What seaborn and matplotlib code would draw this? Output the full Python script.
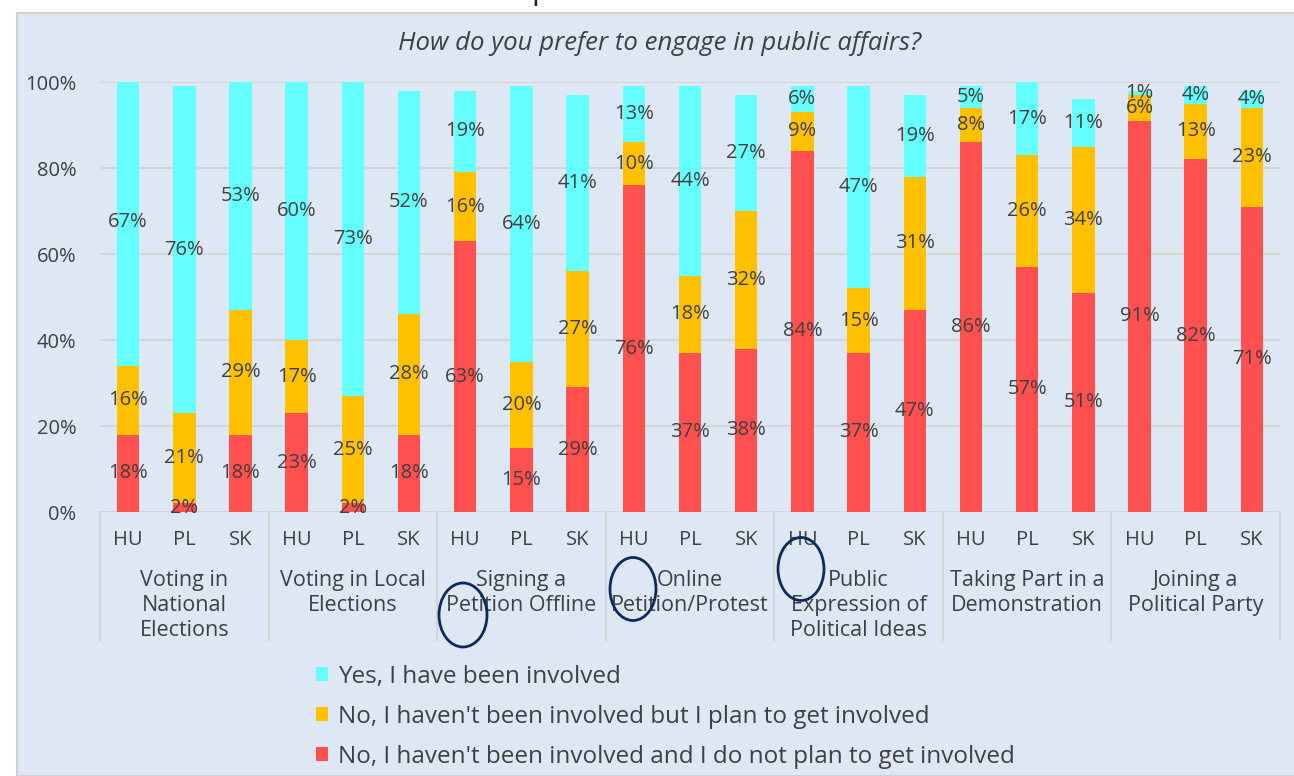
import matplotlib
matplotlib.use("Agg")
import matplotlib.pyplot as plt
from matplotlib.patches import Rectangle, Ellipse, Patch
import seaborn as sns
import pandas as pd
import numpy as np

groups = ["Voting in\nNational\nElections", "Voting in Local\nElections", "Signing a\nPetition Offline",
          "Online\nPetition/Protest", "Public\nExpression of\nPolitical Ideas", "Taking Part in a\nDemonstration",
          "Joining a\nPolitical Party"]
countries = ["HU", "PL", "SK"]
# per group: HU, PL, SK
no_no = [18, 2, 18, 23, 2, 18, 63, 15, 29, 76, 37, 38, 84, 37, 47, 86, 57, 51, 91, 82, 71]
no_plan = [16, 21, 29, 17, 25, 28, 16, 20, 27, 10, 18, 32, 9, 15, 31, 8, 26, 34, 6, 13, 23]
yes = [67, 76, 53, 60, 73, 52, 19, 64, 41, 13, 44, 27, 6, 47, 19, 5, 17, 11, 1, 4, 4]
series_names = ["Yes, I have been involved",
                "No, I haven't been involved but I plan to get involved",
                "No, I haven't been involved and I do not plan to get involved"]
colors = ["#66FFFF", "#FFC000", "#FF5050"]
title = "How do you prefer to engage in public affairs?"
yticks = [0, 20, 40, 60, 80, 100]

W, H = 1294, 776
fig = plt.figure(figsize=(W / 100, H / 100), dpi=100)
fig.patch.set_facecolor("white")
plt.rcParams["font.family"] = ["Open Sans", "DejaVu Sans"]
TXT = "#404040"
BG = "#DDE8F4"

fig.patches.append(Rectangle((17 / W, 0), (W - 17) / W + 0.01, (H - 13) / H, transform=fig.transFigure,
                             facecolor=BG, edgecolor="#D0D0D0", lw=1.5, zorder=-5))
fig.text(541 / W, 1 + 1 / H, "p", ha="center", va="baseline", fontsize=22, color="#222222")

ax = fig.add_axes([100 / W, (H - 512) / H, 1180 / W, 430 / H])
ax.set_zorder(1)
ax.set_facecolor("none")

n = len(no_no)
cats = [f"{g}_{c}" for g in range(len(groups)) for c in countries]
r = np.array(no_no)
o = np.array(no_plan)
y = np.array(yes)
df = pd.DataFrame({"cat": cats, "top": r + o + y, "mid": r + o, "low": r})

for col, colr in zip(["top", "mid", "low"], colors):
    sns.barplot(data=df, x="cat", y=col, order=cats, color=colr, width=0.4, errorbar=None,
                saturation=1, ax=ax, zorder=3, edgecolor="none")

for i in range(n):
    segs = [(0, r[i]), (r[i], r[i] + o[i]), (r[i] + o[i], r[i] + o[i] + y[i])]
    for (b, t), v in zip(segs, [r[i], o[i], y[i]]):
        ax.text(i, (b + t) / 2, f"{v}%", ha="center", va="center", fontsize=14.5, color=TXT, zorder=5)

ax.set_xlim(-0.5, n - 0.5)
ax.set_ylim(0, 100)
ax.set_yticks(yticks)
ax.set_yticklabels([f"{t}%" for t in yticks])
ax.set_xticks(range(n))
ax.set_xticklabels(countries * len(groups))
ax.tick_params(axis="y", length=0, pad=17, labelsize=14.5, labelcolor=TXT)
ax.tick_params(axis="x", length=0, pad=13, labelsize=14.5, labelcolor=TXT)
ax.set_xlabel("")
ax.set_ylabel("")
for s in ax.spines.values():
    s.set_visible(False)
for t in yticks:
    ax.axhline(t, color="#D5D5D5", lw=1.5, zorder=1)

trans = ax.get_xaxis_transform()
ax_h = 430
for k in range(len(groups) + 1):
    xb = -0.5 + 3 * k
    ax.plot([xb, xb], [0, -128 / ax_h], transform=trans, color="#D5D5D5", lw=1.5, clip_on=False)
for k, g in enumerate(groups):
    ax.text(3 * k + 1, -58 / ax_h, g, transform=trans, ha="center", va="top", fontsize=15.5,
            color=TXT, linespacing=1.24)

fig.text(660 / W, 1 - 43 / H, title, ha="center", va="center", fontsize=18.5, style="italic", color=TXT)

for cx, cy, w, h in [(463, 615, 48, 64), (633, 589, 46, 63), (801, 569, 46, 63)]:
    fig.patches.append(Ellipse((cx / W, 1 - cy / H), w / W, h / H, transform=fig.transFigure,
                               fill=False, edgecolor="#0D2A5C", lw=2, zorder=10))

handles = [Patch(facecolor=c, edgecolor="none") for c in colors]
fig.legend(handles, series_names, loc="upper left", bbox_to_anchor=(306 / W, 1 - 655 / H),
           frameon=False, fontsize=17.5, handlelength=0.52, handleheight=0.52, handletextpad=0.38,
           labelspacing=0.66, labelcolor=TXT, borderaxespad=0)

fig.savefig("out.png", dpi=100, facecolor=fig.get_facecolor())
